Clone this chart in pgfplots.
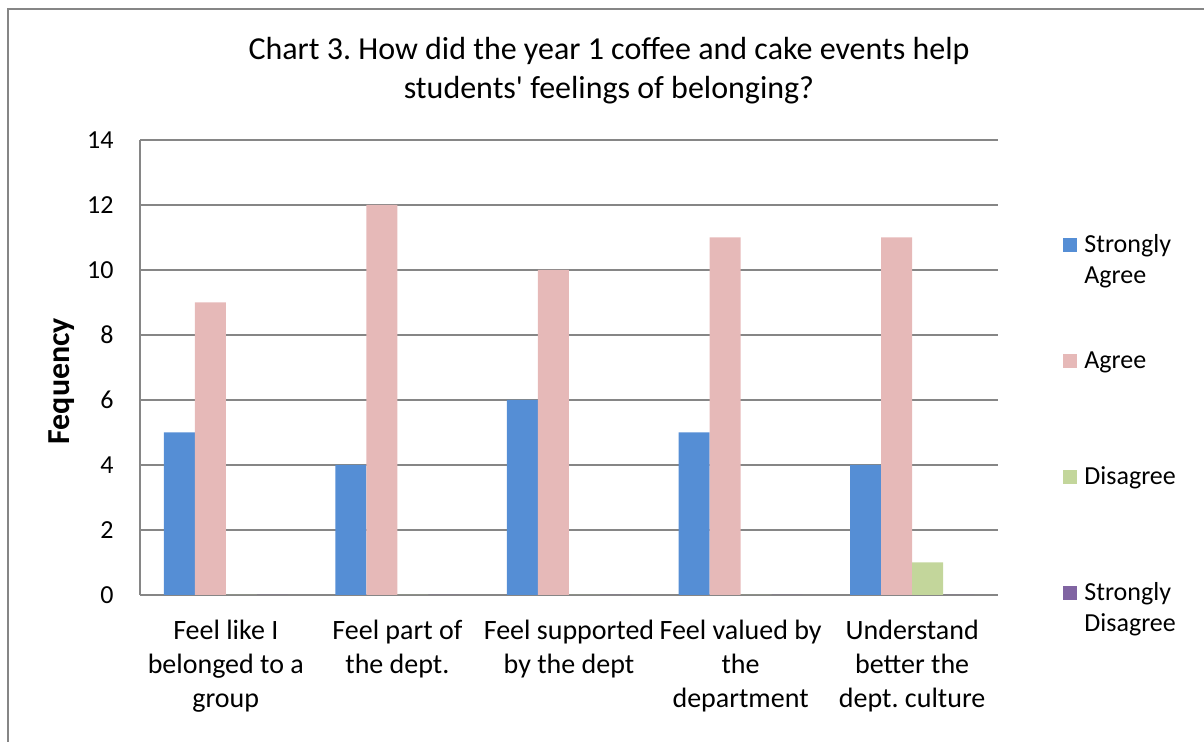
\documentclass[border=0pt]{standalone}
\usepackage{pgfplots}
\pgfplotsset{compat=1.18}
\usepackage{fontspec}
\setmainfont{Carlito}[Ligatures=TeXOff]
\frenchspacing
\definecolor{sagree}{HTML}{558ED5}
\definecolor{agree}{HTML}{E6B9B8}
\definecolor{disagree}{HTML}{C3D69B}
\definecolor{sdisagree}{HTML}{8064A2}
\definecolor{gridgray}{HTML}{868686}
\newcommand\fs[2]{\fontsize{#1}{#2}\selectfont}
% two-line legend text whose baseline is its first line
\newcommand\twol[2]{\vtop{\hbox{#1}\hbox{#2}}}

\begin{document}
\begin{tikzpicture}[x=1pt,y=1pt]
\useasboundingbox (0,0) rectangle (602,371);
\draw[gridgray,line width=0.75pt] (4,-2) -- (4,366.5) -- (606,366.5);
\node[font=\fs{16}{19.5}, align=center, anchor=base] at (304.5,321.5)
  {Chart 3. How did the year 1 coffee and cake events help\\students' feelings of belonging?};
\begin{axis}[
  at={(70pt,73.5pt)}, anchor=south west,
  width=429pt, height=227.5pt, scale only axis,
  ybar=0pt, bar width=0.1807,
  xmin=-0.5, xmax=4.5, ymin=0, ymax=14,
  xtick={0,1,2,3,4},
  xticklabels={{Feel like I\\belonged to a\\group},{Feel part of\\the dept.},{Feel supported\\by the dept},{Feel valued by\\the\\department},{Understand\\better the\\dept. culture}},
  ytick={0,2,...,14},
  axis x line*=bottom, axis y line*=left,
  axis line style={gridgray,line width=0.75pt},
  major tick length=0pt,
  ymajorgrids, major grid style={gridgray,line width=0.75pt},
  /pgf/number format/assume math mode=true,
  yticklabel style={font=\fs{13}{15.5}, anchor=east, inner sep=0pt, xshift=-13pt},
  xticklabel style={font=\fs{14}{17}, align=center, anchor=north, inner sep=0pt, yshift=-12.3pt},
  every axis y label/.style={at={(axis description cs:-0.0909,0.47)}, anchor=center, rotate=90},
  ylabel={\fs{16}{19}\bfseries Fequency},
  legend cell align=left,
  legend style={draw=none, fill=none, at={(1.0758,0.7978)}, anchor=north west,
    inner sep=0pt, row sep=28pt, column sep=3.5pt, font=\fs{13}{15.5},
    nodes={inner sep=0pt, text height=10pt, text depth=20pt}},
  legend image code/.code={\fill[#1,draw=none] (0pt,5pt) rectangle (7pt,12pt);},
]
\addplot[fill=sagree, draw=none, bar shift=-0.2711] coordinates {(0,5) (1,4) (2,6) (3,5) (4,4)};
\addlegendentry{\twol{Strongly}{Agree}}
\addplot[fill=agree, draw=none, bar shift=-0.0904] coordinates {(0,9) (1,12) (2,10) (3,11) (4,11)};
\addlegendentry{Agree}
\addplot[fill=disagree, draw=none, bar shift=0.0904] coordinates {(0,0) (1,0) (2,0) (3,0) (4,1)};
\addlegendentry{Disagree}
\addplot[fill=sdisagree, draw=none, bar shift=0.2711] coordinates {(0,0) (1,0) (2,0) (3,0) (4,0)};
\addlegendentry{\twol{Strongly}{Disagree}}
\end{axis}
\end{tikzpicture}
\end{document}
